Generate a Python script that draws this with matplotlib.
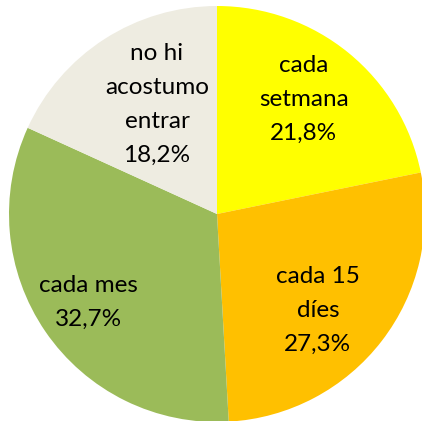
import numpy as np
import matplotlib.pyplot as plt

labels = ["cada\nsetmana", "cada 15\ndíes", "cada mes", "no hi\nacostumo\nentrar"]
values = [21.8, 27.3, 32.7, 18.2]
colors = ["#FFFF00", "#FFC000", "#9BBB59", "#EEECE1"]

# label distance (fraction of radius) and angle nudge, per slice
label_r = [0.69, 0.67, 0.75, 0.60]
label_nudge = [2, -6, 0, -4]

plt.rcParams['font.family'] = ['Lato', 'DejaVu Sans']

fig = plt.figure(figsize=(4.22, 4.21), dpi=100)
ax = fig.add_axes([9 / 422, -1 / 421, 416 / 422, 416 / 421])

wedges, _ = ax.pie(values, colors=colors, startangle=90, counterclock=False,
                   radius=1.0, wedgeprops=dict(linewidth=0))

for w, lab, v, r, dn in zip(wedges, labels, values, label_r, label_nudge):
    mid = np.deg2rad((w.theta1 + w.theta2) / 2 + dn)
    txt = lab + "\n" + ("%.1f%%" % v).replace(".", ",")
    ax.text(r * np.cos(mid), r * np.sin(mid), txt, ha="center", va="center",
            fontsize=17.5, color="#000000", linespacing=1.75)

ax.set_xlim(-1, 1)
ax.set_ylim(-1, 1)
ax.set_aspect("equal")
ax.axis("off")

fig.savefig("out.png", dpi=100)
